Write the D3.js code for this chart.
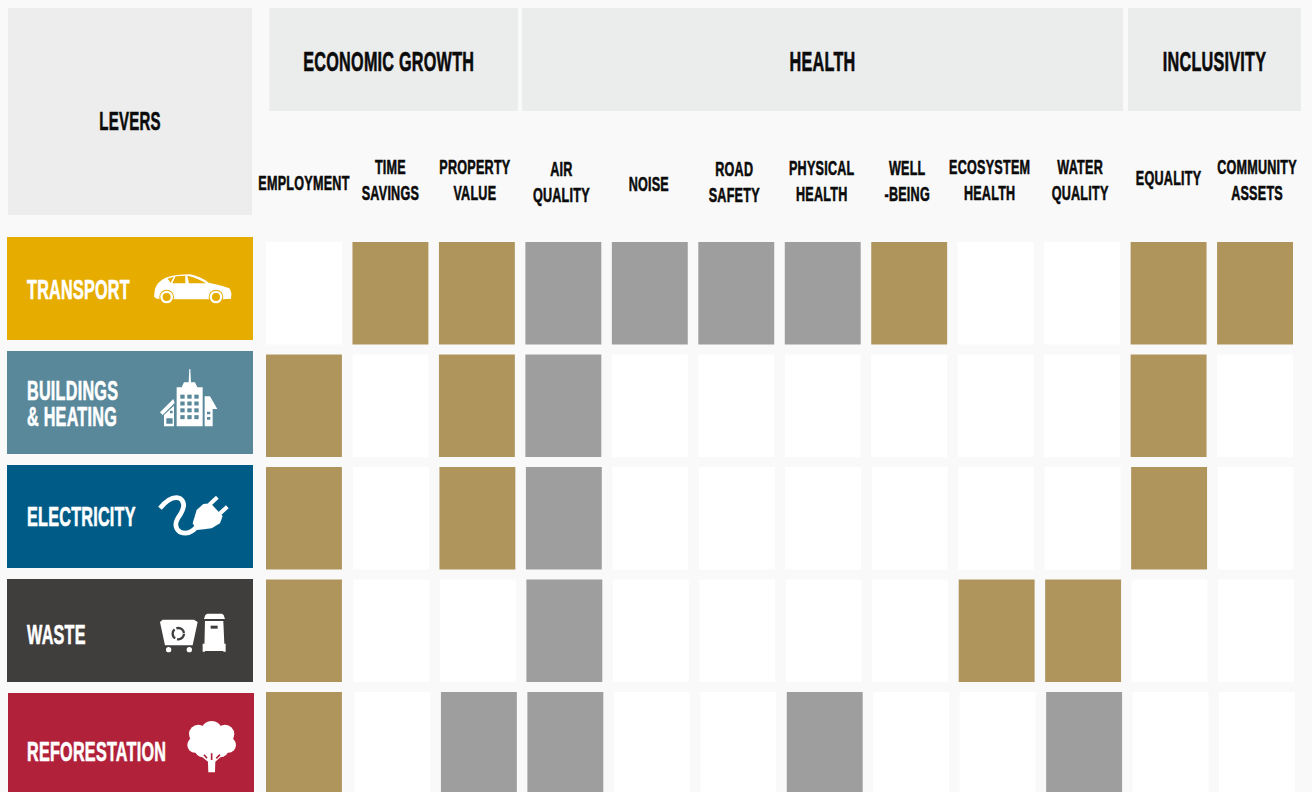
<!DOCTYPE html>
<html>
<head>
<meta charset="utf-8">
<script src="https://cdn.jsdelivr.net/npm/d3@7"></script>
<style>
  html, body { margin: 0; padding: 0; background: #f9f9f9; overflow: hidden; }
  svg { display: block; }
  text { font-family: "Liberation Sans", sans-serif; font-weight: 700; letter-spacing: 0.4px; }
</style>
</head>
<body>
<svg id="chart" width="1312" height="792"></svg>
<script>
// matrix contents
const levers = ['Transport', 'Buildings & Heating', 'Electricity', 'Waste', 'Reforestation'];
const leverLines = [['TRANSPORT'], ['BUILDINGS', '& HEATING'], ['ELECTRICITY'], ['WASTE'], ['REFORESTATION']];
const leverColors = ['#e6ac00', '#59889b', '#005c87', '#403e3c', '#b2213a'];
const leverIcons = ['car', 'building', 'plug', 'bins', 'tree'];
const metrics = ['Employment', 'Time savings', 'Property value', 'Air quality', 'Noise', 'Road safety',
  'Physical health', 'Well-being', 'Ecosystem health', 'Water quality', 'Equality', 'Community assets'];
const metricLines = [['EMPLOYMENT'], ['TIME', 'SAVINGS'], ['PROPERTY', 'VALUE'], ['AIR', 'QUALITY'], ['NOISE'], ['ROAD', 'SAFETY'],
  ['PHYSICAL', 'HEALTH'], ['WELL', '-BEING'], ['ECOSYSTEM', 'HEALTH'], ['WATER', 'QUALITY'], ['EQUALITY'], ['COMMUNITY', 'ASSETS']];
const groups = ['ECONOMIC GROWTH', 'HEALTH', 'INCLUSIVITY'];
// 0 = empty, 1 = tan, 2 = grey
const transport = [0, 1, 1, 2, 2, 2, 2, 1, 0, 0, 1, 1];
const buildings = [1, 0, 1, 2, 0, 0, 0, 0, 0, 0, 1, 0];
const electricity = [1, 0, 1, 2, 0, 0, 0, 0, 0, 0, 1, 0];
const waste = [1, 0, 0, 2, 0, 0, 0, 0, 1, 1, 0, 0];
const reforestation = [1, 0, 2, 2, 0, 0, 2, 0, 0, 2, 0, 0];
const matrix = [transport, buildings, electricity, waste, reforestation];

const svg = d3.select('#chart');
const fill = d3.scaleOrdinal().domain([0, 1, 2]).range(['#ffffff', '#af955c', '#9d9e9d']);

const x = d3.scaleBand().domain(d3.range(metrics.length)).range([266, 1293]).paddingInner(0.122).paddingOuter(0);
const y = d3.scaleBand().domain(d3.range(levers.length)).range([242, 794.5]).paddingInner(0.089).paddingOuter(0);
const barY = d3.scaleBand().domain(d3.range(levers.length)).range([237, 796]).paddingInner(0.0965).paddingOuter(0);
// lower rows sit a little to the right in the original, the first column does not
const rowDrift = [0, 0, 0.5, 1, 2];

// no condensed face installed, so the bold is squeezed sideways and thickened
const squeeze = 0.6;
function label(sel, px, py, str, size, color, anchor) {
  const c = color || '#0b0b0b';
  return sel.append('text')
    .attr('transform', `translate(${px},${py}) scale(${squeeze},1)`)
    .attr('text-anchor', anchor || 'middle')
    .attr('font-size', size)
    .attr('fill', c)
    .attr('stroke', c)
    .attr('stroke-width', 0.6)
    .text(str);
}

// Icons, drawn in 3x coordinates taken from the lever bar's corner
const icons = {
  car(g, bg) {
    const o = g.append('g').attr('transform', 'translate(-21,-21)');
    o.append('path').attr('d', 'M462 200L465 176Q472 155 497 143Q530 133 570 133Q600 138 626 158Q662 165 688 175Q697 186 693 206L668 208L528 208L470 206Z');
    o.append('path').attr('fill', bg).attr('d', 'M503 146L521 140L512 158ZM527 139L556 137L556 160L517 160ZM562 137Q592 143 618 160L567 160Z');
    [500, 648].forEach(cx => {
      o.append('circle').attr('cx', cx).attr('cy', 201).attr('r', 22).attr('fill', bg);
      o.append('circle').attr('cx', cx).attr('cy', 201).attr('r', 19);
      o.append('circle').attr('cx', cx).attr('cy', 201).attr('r', 12).attr('fill', bg);
    });
  },
  building(g, bg) {
    const o = g.append('g').attr('transform', 'translate(-21,-366)');
    o.append('path').attr('d', 'M566 460L568 420L571 420L573 460L585 460L592 475L608 475L608 592L530 592L530 475L545 475L552 460Z');
    d3.range(4).forEach(rw => d3.range(3).forEach(cl => {
      o.append('rect').attr('x', 541 + cl * 21).attr('y', 497 + rw * 20.5).attr('width', 13).attr('height', 12).attr('fill', bg);
    }));
    o.append('path').attr('d', 'M480 550L520 510L524 522L488 558ZM492 558L522 530L522 592L492 592ZM614 502L630 502L652 540L638 540L638 592L614 592Z');
    o.append('path').attr('fill', bg).attr('d', 'M499 568H518V584H499ZM621 548H631V556H621ZM621 564H631V572H621ZM510 545H518V553H510Z');
  },
  plug(g) {
    const o = g.append('g').attr('transform', 'translate(-21,-15)');
    o.append('path').attr('fill', 'none').attr('stroke', '#fff').attr('stroke-width', 14)
      .attr('d', 'M480 145Q512 105 540 115Q562 130 540 165Q515 198 540 216Q570 228 592 198');
    o.append('path').attr('d', 'M578 190L590 150L610 132L632 130L668 168L660 190L635 205L612 208L590 210Z');
    o.append('path').attr('fill', 'none').attr('stroke', '#fff').attr('stroke-width', 12).attr('d', 'M628 134L652 112M658 162L682 140');
  },
  bins(g, bg) {
    const o = g.append('g').attr('transform', 'translate(-21,-354)');
    o.append('path').attr('d', 'M480 483L488 476L582 476L593 483L578 553L495 553Z');
    o.append('circle').attr('cx', 535).attr('cy', 518).attr('r', 17).attr('fill', 'none').attr('stroke', bg).attr('stroke-width', 7).attr('stroke-dasharray', '30 6');
    o.append('circle').attr('cx', 506).attr('cy', 566).attr('r', 8);
    o.append('circle').attr('cx', 568).attr('cy', 566).attr('r', 8);
    o.append('path').attr('d', 'M612 474L616 462L622 458H666L671 462L675 474ZM615 480H670L674 570H613Z');
    o.append('rect').attr('x', 632).attr('y', 494).attr('width', 21).attr('height', 9).attr('fill', bg);
    o.append('path').attr('d', 'M608 548H615V572H608ZM670 548H677V572H670Z');
  },
  tree(g, bg) {
    const o = g.append('g').attr('transform', 'translate(-24,-699)');
    [[635, 815, 32], [595, 822, 28], [675, 822, 28], [585, 855, 23], [685, 855, 23], [610, 865, 27], [660, 865, 27], [635, 850, 40]].forEach(c => {
      o.append('circle').attr('cx', c[0]).attr('cy', c[1]).attr('r', c[2]);
    });
    o.append('path').attr('d', 'M625 937L645 937L646 905L668 886L600 886L624 905Z');
    o.append('path').attr('fill', 'none').attr('stroke', bg).attr('stroke-width', 5).attr('d', 'M635 900L635 880M621 895L612 884M649 895L660 884');
  }
};

// Header boxes
svg.append('rect').attr('x', 8).attr('y', 8).attr('width', 244).attr('height', 207).attr('fill', '#ecedec');
label(svg, 130, 130, 'LEVERS', 25);

const groupX0 = [269.5, 522, 1128];
const groupX1 = [518, 1123, 1301];
const groupNudge = [-5, 0, 0];
groups.forEach((g, i) => {
  svg.append('rect').attr('x', groupX0[i]).attr('y', 8).attr('width', groupX1[i] - groupX0[i]).attr('height', 103).attr('fill', '#ebecec');
  label(svg, (groupX0[i] + groupX1[i]) / 2 + groupNudge[i], 71, g, 27);
});

// Metric names, hand placed like the original
const metricBase = [190, 174, 174, 176, 191, 176, 175, 175, 174, 174, 185, 174];
const metricNudge = [0, 0, -2, -2, -1, -2, -1, -2, -6, -2, 0, 2];
metricLines.forEach((lines, i) => {
  const cx = x(i) + x.bandwidth() / 2 + metricNudge[i];
  lines.forEach((t, k) => label(svg, cx, metricBase[i] + k * 26.4, t, 21));
});

// Cells
svg.append('g').selectAll('g').data(matrix).join('g')
  .attr('transform', (d, r) => `translate(0,${y(r)})`)
  .each(function (d, r) {
    d3.select(this).selectAll('rect').data(d).join('rect')
      .attr('x', (v, c) => x(c) + (c > 0 ? rowDrift[r] : 0))
      .attr('width', x.bandwidth())
      .attr('height', y.bandwidth())
      .attr('fill', v => fill(v));
  });

// Lever bars
const leverG = svg.append('g').selectAll('g').data(levers).join('g')
  .attr('transform', (d, r) => `translate(${r === 4 ? 8 : 7},${barY(r)})`);
leverG.append('rect').attr('width', 246).attr('height', barY.bandwidth()).attr('fill', (d, r) => leverColors[r]);

const labelBase = [62, 49, 61, 65, 68];
leverG.each(function (d, r) {
  const g = d3.select(this);
  leverLines[r].forEach((t, k) => label(g, r === 4 ? 19 : 20, labelBase[r] + k * 26, t, 27, '#ffffff', 'start'));
  const ic = g.append('g').attr('transform', 'scale(0.3333)').attr('fill', '#fff');
  icons[leverIcons[r]](ic, leverColors[r]);
});
</script>
</body>
</html>
